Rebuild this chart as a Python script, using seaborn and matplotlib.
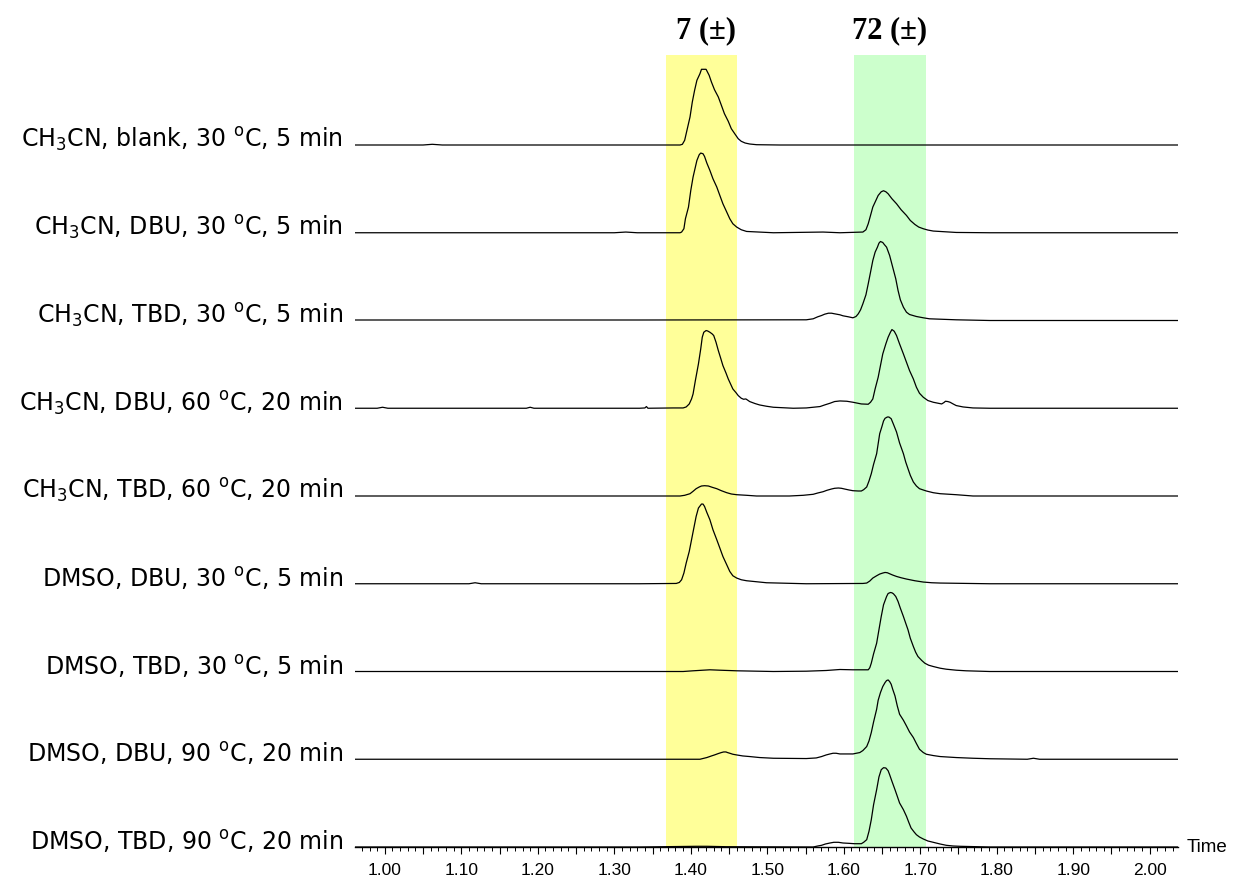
import numpy as np
import pandas as pd
import seaborn as sns
import matplotlib
matplotlib.use("Agg")
import matplotlib.pyplot as plt
from matplotlib import transforms
from matplotlib.ticker import MultipleLocator, FuncFormatter

# ---------------- data ----------------
labels = [
    "CH$_\\mathregular{3}$CN, blank, 30 $^\\mathregular{o}$C, 5 min",
    "CH$_\\mathregular{3}$CN, DBU, 30 $^\\mathregular{o}$C, 5 min",
    "CH$_\\mathregular{3}$CN, TBD, 30 $^\\mathregular{o}$C, 5 min",
    "CH$_\\mathregular{3}$CN, DBU, 60 $^\\mathregular{o}$C, 20 min",
    "CH$_\\mathregular{3}$CN, TBD, 60 $^\\mathregular{o}$C, 20 min",
    "DMSO, DBU, 30 $^\\mathregular{o}$C, 5 min",
    "DMSO, TBD, 30 $^\\mathregular{o}$C, 5 min",
    "DMSO, DBU, 90 $^\\mathregular{o}$C, 20 min",
    "DMSO, TBD, 90 $^\\mathregular{o}$C, 20 min",
]

peak_labels = ["7", "72"]
band_7 = [1.367, 1.461]
band_72 = [1.613, 1.707]

t1 = [0.961, 1.050, 1.062, 1.075, 1.333, 1.386, 1.389, 1.392, 1.395, 1.399, 1.402, 1.405,
      1.408, 1.412, 1.414, 1.420, 1.424, 1.427, 1.431, 1.436, 1.440, 1.444, 1.449,
      1.453, 1.458, 1.462, 1.466, 1.471, 1.477, 1.486, 1.516, 2.037]
s1 = [0, 0, 0.7, 0, 0, 0, 0.7, 4.7, 14.7, 28, 43, 54.7,
      64.7, 71.3, 75.7, 75.7, 69.7, 63, 55.3, 48, 39.7, 31.3, 23.7,
      16.3, 10.7, 6.3, 3.7, 2, 1, 0.3, 0, 0]

t2 = [0.961, 1.300, 1.315, 1.330, 1.386, 1.388, 1.391, 1.393, 1.397, 1.400, 1.403, 1.406,
      1.408, 1.411, 1.413, 1.416, 1.418, 1.421, 1.425, 1.429, 1.434, 1.438, 1.442,
      1.447, 1.451, 1.455, 1.460, 1.466, 1.473, 1.508, 1.573, 1.595, 1.625, 1.629,
      1.632, 1.635, 1.638, 1.642, 1.645, 1.649, 1.652, 1.655, 1.658, 1.663, 1.669,
      1.675, 1.682, 1.687, 1.693, 1.698, 1.704, 1.710, 1.717, 1.747, 1.791, 2.037]
s2 = [0, 0, 0.7, 0, 0, 0.7, 4, 14, 25.7, 42.3, 55.7, 65.7,
      72.3, 78, 79.7, 79, 76.3, 69.7, 62.3, 54, 45.7, 37.3, 29,
      20.7, 14, 9, 5.7, 3, 1.3, 0, 0.7, 0, 0.7, 3,
      9, 17.3, 25.7, 32.3, 37.3, 41, 42, 41, 39, 34, 29,
      23, 17.3, 12.3, 8.3, 5.7, 4, 2.7, 1.7, 0.3, 0, 0]

t3 = [0.961, 1.333, 1.551, 1.560, 1.566, 1.571, 1.575, 1.580, 1.584, 1.588, 1.595, 1.599,
      1.606, 1.612, 1.616, 1.619, 1.622, 1.625, 1.629, 1.632, 1.635, 1.638, 1.641,
      1.644, 1.646, 1.648, 1.651, 1.653, 1.656, 1.660, 1.664, 1.668, 1.671, 1.674,
      1.678, 1.682, 1.686, 1.695, 1.704, 1.712, 1.747, 1.791, 2.037]
s3 = [0.5, 0.5, 0.7, 1.7, 3.7, 5, 6.3, 7.3, 7.3, 6.7, 5.7, 4.7,
      3.7, 2.7, 4, 6.7, 10.7, 16.7, 25.7, 36.7, 48.3, 60, 68.3,
      73.3, 77.3, 79, 78, 76, 73.3, 65, 53.3, 41.7, 30, 20.7,
      13.3, 8.3, 6, 4, 2.7, 1.7, 0.7, 0, 0]

t4 = [0.961, 0.990, 0.997, 1.004, 1.185, 1.190, 1.195, 1.333, 1.340, 1.342, 1.344, 1.377,
      1.390, 1.394, 1.398, 1.401, 1.403, 1.406, 1.410, 1.413, 1.415, 1.417, 1.420,
      1.422, 1.425, 1.428, 1.430, 1.433, 1.436, 1.439, 1.442, 1.446, 1.449, 1.452,
      1.455, 1.459, 1.462, 1.466, 1.469, 1.472, 1.474, 1.477, 1.484, 1.490, 1.499,
      1.508, 1.534, 1.551, 1.569, 1.575, 1.582, 1.588, 1.595, 1.604, 1.612, 1.623,
      1.632, 1.635, 1.638, 1.641, 1.645, 1.648, 1.651, 1.655, 1.658, 1.661, 1.663,
      1.666, 1.669, 1.673, 1.678, 1.682, 1.686, 1.691, 1.695, 1.699, 1.704, 1.710,
      1.717, 1.728, 1.731, 1.733, 1.736, 1.739, 1.743, 1.747, 1.756, 1.769, 1.791,
      2.037]
s4 = [0, 0, 1, 0, 0, 1, 0, 0, 0.3, 1.7, 0, 0.3,
      0.3, 1.3, 4.3, 9.3, 14.3, 27.7, 44.3, 59.3, 71, 76, 77.7,
      77.3, 76, 74.3, 72.7, 66, 57.7, 50.3, 42.7, 35.3, 29.3, 24.3,
      19.3, 15.7, 12.7, 10, 9, 9.3, 8.3, 6.7, 4.7, 3.3, 2,
      1, 0, 0.3, 1.7, 3.3, 5, 6.7, 7.3, 7, 6, 4.3,
      4, 6, 9.3, 19.3, 31, 42.7, 54.3, 64.3, 71, 76, 78.7,
      77, 72.7, 64.3, 54.3, 46, 37.7, 29.3, 21, 15, 11, 7.7,
      6, 4.3, 5.7, 7, 6.7, 6, 4.3, 2.7, 1.3, 0.3, 0,
      0]

t5 = [0.961, 1.333, 1.386, 1.392, 1.399, 1.403, 1.407, 1.411, 1.414, 1.418, 1.423, 1.428,
      1.434, 1.440, 1.447, 1.453, 1.460, 1.473, 1.486, 1.529, 1.547, 1.560, 1.566,
      1.573, 1.578, 1.584, 1.588, 1.593, 1.597, 1.601, 1.607, 1.612, 1.619, 1.623,
      1.626, 1.630, 1.633, 1.636, 1.639, 1.643, 1.645, 1.647, 1.650, 1.652, 1.654,
      1.657, 1.659, 1.662, 1.665, 1.669, 1.673, 1.678, 1.681, 1.684, 1.687, 1.691,
      1.695, 1.699, 1.704, 1.708, 1.717, 1.726, 1.747, 1.769, 1.791, 2.037]
s5 = [0, 0, 0, 0.7, 2.3, 4.7, 7.3, 9, 10, 10.3, 10, 8.7,
      7.3, 5.3, 3.3, 2, 1.3, 0.7, 0, 0, 0.7, 1.7, 3,
      4.3, 5.7, 7, 7.7, 8, 7.7, 7, 6, 5.3, 5, 5,
      6.3, 9, 15, 22.3, 31.7, 42.3, 52.3, 62.3, 69.7, 75, 77.7,
      79, 79, 77.3, 71.7, 64, 53, 42.3, 34, 27.3, 20.7, 14,
      10, 7.3, 6, 5, 3.3, 2.3, 1.3, 0, 0, 0]

t6 = [0.961, 1.110, 1.118, 1.126, 1.333, 1.381, 1.385, 1.388, 1.391, 1.394, 1.398, 1.401,
      1.404, 1.407, 1.410, 1.414, 1.416, 1.418, 1.421, 1.425, 1.429, 1.434, 1.438,
      1.442, 1.447, 1.451, 1.455, 1.460, 1.466, 1.473, 1.486, 1.499, 1.551, 1.625,
      1.630, 1.634, 1.638, 1.643, 1.647, 1.651, 1.654, 1.657, 1.660, 1.664, 1.669,
      1.675, 1.682, 1.693, 1.704, 1.715, 1.726, 1.791, 2.037]
s6 = [0, 0, 1, 0, 0, 0.3, 1.3, 4, 10.7, 20.7, 32.3, 44,
      55.7, 67.3, 75.7, 79.7, 79.7, 77.3, 71.3, 64, 54, 44, 35.7,
      27.3, 19, 12.3, 8, 5.7, 4, 3, 2, 1, 0, 0.3,
      0.7, 2.7, 5.7, 8, 9.7, 10.7, 11.3, 11, 10, 8.7, 7.3,
      6, 4.7, 3, 1.7, 1, 0.7, 0, 0]

t7 = [0.961, 1.333, 1.390, 1.403, 1.416, 1.425, 1.438, 1.460, 1.508, 1.551, 1.577, 1.595,
      1.612, 1.632, 1.634, 1.636, 1.639, 1.643, 1.646, 1.649, 1.652, 1.656, 1.658,
      1.661, 1.663, 1.665, 1.668, 1.671, 1.674, 1.678, 1.681, 1.684, 1.687, 1.691,
      1.694, 1.697, 1.702, 1.706, 1.711, 1.717, 1.726, 1.734, 1.747, 1.760, 1.791,
      2.037]
s7 = [0, 0, 0, 0.7, 1.3, 1.7, 1.3, 0.7, 0, 0.3, 1, 2,
      1.7, 1.7, 3.7, 8.3, 17.7, 28.3, 41.7, 55, 66.7, 75, 78,
      79, 78.7, 77.7, 75, 70, 63.3, 55, 48.3, 41.7, 33.3, 25,
      19.3, 15, 11, 8.3, 6.3, 5, 3.3, 2.3, 1.3, 0.7, 0,
      0]

t8 = [0.961, 1.333, 1.412, 1.421, 1.427, 1.431, 1.436, 1.440, 1.443, 1.446, 1.448, 1.451,
      1.455, 1.460, 1.468, 1.477, 1.490, 1.508, 1.551, 1.564, 1.571, 1.577, 1.582,
      1.586, 1.590, 1.595, 1.604, 1.612, 1.621, 1.625, 1.630, 1.633, 1.636, 1.639,
      1.643, 1.645, 1.648, 1.651, 1.654, 1.656, 1.658, 1.660, 1.662, 1.664, 1.667,
      1.670, 1.673, 1.678, 1.682, 1.686, 1.691, 1.695, 1.699, 1.704, 1.708, 1.717,
      1.726, 1.747, 1.769, 1.791, 1.840, 1.848, 1.856, 2.037]
s8 = [0, 0, 0, 1.7, 3.3, 4.3, 5.7, 6.7, 7.3, 7.3, 6.7, 6,
      5, 4.3, 3.3, 2.7, 1.7, 1, 0.7, 1.3, 2.7, 4.3, 5.3,
      6, 6, 5.3, 5.3, 5.3, 6.7, 8.7, 12.7, 18.3, 26.7, 37.3,
      50, 59, 66.7, 72.7, 76.7, 78.7, 79.3, 77.7, 75, 70, 63.3,
      53.3, 45, 39, 33.3, 27.3, 21.7, 15.7, 10, 6.7, 5, 3.7,
      2.7, 1.7, 1, 0.5, 0, 1, 0, 0]

t9 = [0.961, 1.333, 1.407, 1.421, 1.446, 1.560, 1.566, 1.571, 1.576, 1.582, 1.587, 1.593,
      1.599, 1.606, 1.614, 1.623, 1.626, 1.630, 1.633, 1.636, 1.639, 1.643, 1.646,
      1.649, 1.652, 1.655, 1.658, 1.660, 1.663, 1.667, 1.670, 1.673, 1.678, 1.682,
      1.685, 1.688, 1.692, 1.695, 1.699, 1.704, 1.710, 1.717, 1.726, 1.734, 1.743,
      1.752, 1.791, 2.037]
s9 = [0, 0, 0.7, 0.7, 0.3, 0, 1, 1.7, 3, 4, 4.7, 4.7,
      4, 3.7, 3.3, 3.3, 4.7, 7.3, 15.7, 27.3, 42.3, 57.3, 70,
      77.3, 79.3, 79, 76.3, 72.3, 65.7, 57.3, 50.7, 44, 37.3, 30.7,
      24.7, 19, 15, 12.3, 10, 8, 6, 4.7, 3, 1.7, 1,
      0.7, 0, 0]

times = [t1, t2, t3, t4, t5, t6, t7, t8, t9]
signals = [s1, s2, s3, s4, s5, s6, s7, s8, s9]

# ---------------- styling ----------------
sns.set_style("white")
plt.rcParams["font.family"] = ["Liberation Sans", "DejaVu Sans"]
plt.rcParams["mathtext.default"] = "regular"

fig = plt.figure(figsize=(12.37, 8.80), dpi=100)
ax = fig.add_axes([355 / 1237, 1 - 847 / 880, (1178 - 355) / 1237, 792 / 880])

row_step = 87.75
n = len(labels)
offsets = [(n - 1 - i) * row_step for i in range(n)]

ax.axvspan(band_7[0], band_7[1], color="#FFFF99", lw=0, zorder=0)
ax.axvspan(band_72[0], band_72[1], color="#CCFFCC", lw=0, zorder=0)

frames = []
for i in range(n):
    frames.append(pd.DataFrame({"time": times[i],
                                "signal": np.asarray(signals[i], float) + offsets[i],
                                "run": labels[i]}))
df = pd.concat(frames, ignore_index=True)
sns.lineplot(data=df, x="time", y="signal", units="run", estimator=None,
             color="black", lw=0.9, sort=False, ax=ax, zorder=3)
for ln in ax.lines:
    ln.set_solid_joinstyle("round")

ax.set_xlim(0.961, 2.037)
ax.set_ylim(0, 792)

# x axis
for s in ["top", "right", "left"]:
    ax.spines[s].set_visible(False)
ax.spines["bottom"].set_linewidth(1.0)
ax.spines["bottom"].set_color("black")
ax.xaxis.set_major_locator(MultipleLocator(0.05))
ax.xaxis.set_minor_locator(MultipleLocator(0.01))
ax.xaxis.set_major_formatter(FuncFormatter(
    lambda v, p: f"{v:.2f}" if abs(round(v * 10) - v * 10) < 1e-6 else ""))
ax.tick_params(axis="x", which="major", direction="out", length=5, width=0.8,
               labelsize=12.5, pad=6.5, colors="black", bottom=True)
ax.tick_params(axis="x", which="minor", direction="out", length=3, width=0.7,
               colors="black", bottom=True)
ax.set_yticks([])
ax.set_xlabel("")
ax.set_ylabel("")
ax.grid(False)

# row labels
lbl_tr = transforms.offset_copy(ax.get_yaxis_transform(), fig=fig, x=-12, y=-3, units="dots")
for i in range(n):
    ax.text(0, offsets[i], labels[i], transform=lbl_tr, ha="right", va="baseline",
            fontsize=17, family=["DejaVu Sans"], color="black")

# "Time" at axis end
time_tr = transforms.offset_copy(ax.transAxes, fig=fig, x=9, y=0, units="dots")
ax.text(1.0, 0.0, "Time", transform=time_tr, ha="left", va="center",
        fontsize=13.5, color="black")

# peak labels above bands
top_tr = transforms.offset_copy(ax.get_xaxis_transform(), fig=fig, x=0, y=17, units="dots")
for lab, band, dx in [(peak_labels[0], band_7, 5), (peak_labels[1], band_72, 0)]:
    tr = transforms.offset_copy(top_tr, fig=fig, x=dx, y=0, units="dots")
    ax.text((band[0] + band[1]) / 2, 1.0, f"{lab} (±)", transform=tr, ha="center",
            va="baseline", fontsize=22, fontweight="bold",
            family=["Liberation Serif", "DejaVu Serif"], color="black")

fig.savefig("out.png", dpi=100)
